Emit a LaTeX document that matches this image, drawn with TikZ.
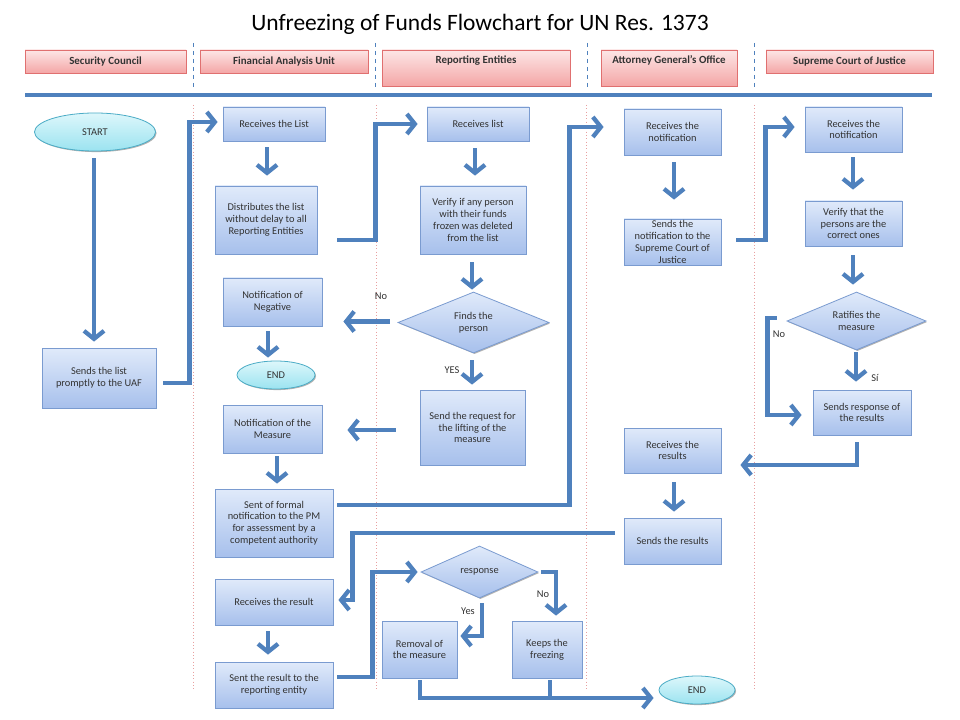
\documentclass[tikz,border=0pt]{standalone}
\usepackage{fontspec}
\setmainfont{Carlito}
\usetikzlibrary{shapes.geometric,arrows.meta,calc,shadows}
\definecolor{arrowblue}{HTML}{4F81BD}
\definecolor{boxline}{HTML}{7A9BD0}
\definecolor{boxtop}{HTML}{E0EAFA}
\definecolor{boxbot}{HTML}{A7C0EC}
\definecolor{hdrtop}{HTML}{FDE6E6}
\definecolor{hdrbot}{HTML}{F4A6A6}
\definecolor{hdrline}{HTML}{E07070}
\definecolor{elltop}{HTML}{DDF7FB}
\definecolor{ellbot}{HTML}{9BE3F0}
\definecolor{ellline}{HTML}{4BACC6}
\definecolor{lanered}{HTML}{E8A0A0}
\definecolor{txt}{HTML}{333333}
\tikzset{
  sz/.style 2 args={minimum width=#1*0.75pt, minimum height=#2*0.75pt},
  shad/.style={drop shadow={shadow xshift=0.8pt,shadow yshift=-0.8pt,opacity=0.3,fill=black}},
  box/.style={draw=boxline, line width=0.6pt, top color=boxtop, bottom color=boxbot, shad,
    align=center, font=\fontsize{7.8}{8.8}\selectfont, text=txt, inner sep=1pt},
  dia/.style={box, diamond, aspect=2.4, inner sep=0pt},
  oval/.style={draw=ellline, line width=0.6pt, top color=elltop, bottom color=ellbot, shad,
    ellipse, inner sep=0pt, font=\fontsize{7.8}{8.8}\selectfont, text=txt},
  hdr/.style={draw=hdrline, line width=0.6pt, top color=hdrtop, bottom color=hdrbot, shad,
    font=\fontsize{8.2}{9}\selectfont\bfseries, text=txt, inner sep=0pt, text height=5.5pt, text depth=1.5pt},
  hdrtall/.style={hdr, text depth=12pt},
  lbl/.style={font=\fontsize{7.8}{8.8}\selectfont, text=txt, inner sep=0pt},
  conn/.style={draw=arrowblue, line width=3.2pt},
  arr/.style={conn, -{Straight Barb[length=6pt,width=15pt]}},
  lanered/.style={draw=lanered, line width=0.5pt, dotted},
  laneblue/.style={draw=arrowblue, line width=0.5pt, dashed}
}
\begin{document}
\begin{tikzpicture}[x=0.75pt,y=-0.75pt]
\useasboundingbox[fill=white] (0,0) rectangle (960,720);
% title
\node[font=\fontsize{17.6}{20}\selectfont, text=black] (title) at (480,24) {Unfreezing of Funds Flowchart for UN Res. 1373};
% lane separators
\foreach \xx in {193,375,587,754} \draw[laneblue] (\xx,43) -- (\xx,88);
\foreach \xx in {193,376,586,754} \draw[lanered] (\xx,105) -- (\xx,690);
\draw[conn] (25,95) -- (932,95);
% headers
\node[hdr, sz={161}{23}] (hsc) at (105.5,61.5) {Security Council};
\node[hdr, sz={168}{23}] (hfau) at (284,61.5) {Financial Analysis Unit};
\node[hdrtall, sz={188}{36}] (hre) at (476,68) {Reporting Entities};
\node[hdrtall, sz={136}{36}] (hag) at (669,68) {Attorney General’s Office};
\node[hdr, sz={167}{23}] (hscj) at (849.5,61.5) {Supreme Court of Justice};
% Security Council
\node[oval, sz={121}{38}] (start) at (95,132) {START};
\node[box, sz={114}{60}] (sendlist) at (99,378) {Sends the list\\promptly to the UAF};
% FAU
\node[box, sz={102}{34}] (recvlist) at (274,124) {Receives the List};
\node[box, sz={102}{68}] (distrib) at (266,220) {Distributes the list\\without delay to all\\Reporting Entities};
\node[box, sz={99}{48}] (notifneg) at (272.5,302) {Notification of\\Negative};
\node[oval, sz={78}{28}] (end1) at (276,375) {END};
\node[box, sz={99}{48}] (notifmeas) at (272.5,429) {Notification of the\\Measure};
\node[box, sz={118}{68}] (sentformal) at (274,523) {Sent of formal\\notification to the PM\\for assessment by a\\competent authority};
\node[box, sz={118}{46}] (recvresult) at (274,602) {Receives the result};
\node[box, sz={118}{46}] (sentresult) at (274,685) {Sent the result to the\\reporting entity};
% Reporting entities
\node[box, sz={102}{34}] (recvRE) at (478,124) {Receives list};
\node[box, sz={106}{68}] (verify) at (473,220) {Verify if any person\\with their funds\\frozen was deleted\\from the list};
\node[dia, sz={151}{61}] (finds) at (473.5,322.5) {Finds the\\person};
\node[box, sz={105}{75}] (sendreq) at (472.5,427.5) {Send the request for\\the lifting of the\\measure};
\node[dia, sz={117}{52}] (response) at (479.5,572) {response};
\node[box, sz={75}{57}] (removal) at (419.5,649.5) {Removal of\\the measure};
\node[box, sz={70}{57}] (keeps) at (547,649.5) {Keeps the\\freezing};
\node[oval, sz={76}{28}] (end2) at (697,690) {END};
% Attorney General
\node[box, sz={97}{46}] (recvnotifAG) at (672.5,132) {Receives the\\notification};
\node[box, sz={97}{46}] (sendsnotif) at (672.5,242) {Sends the\\notification to the\\Supreme Court of\\Justice};
\node[box, sz={97}{45}] (recvresults) at (672.5,450.5) {Receives the\\results};
\node[box, sz={97}{46}] (sendsresults) at (672.5,541) {Sends the results};
% Supreme Court
\node[box, sz={97}{45}] (recvnotifSC) at (853.5,129.5) {Receives the\\notification};
\node[box, sz={97}{45}] (verifySC) at (853.5,223.5) {Verify that the\\persons are the\\correct ones};
\node[dia, sz={139}{58}] (ratifies) at (856.5,321) {Ratifies the\\measure};
\node[box, sz={98}{45}] (sendsresp) at (862,412.5) {Sends response of\\the results};
% labels
\node[lbl] (l1) at (381,296) {No};
\node[lbl] (l2) at (452,370) {YES};
\node[lbl] (l3) at (779,334) {No};
\node[lbl] (l4) at (875,378) {Sí};
\node[lbl] (l5) at (468,611) {Yes};
\node[lbl] (l6) at (543,594) {No};
% connectors
\draw[arr] ($(start.south)+(-1,7)$) -- ($(sendlist.north -| start.south)+(-1,-6)$);
\draw[arr] ($(sendlist.east)+(7,5)$) -| ($(recvlist.west)+(-33,-2)$) -- ($(recvlist.west)+(-5,-2)$);
\draw[arr] ($(recvlist.south -| distrib.north)+(1,6)$) -- ($(distrib.north)+(1,-10)$);
\draw[arr] ($(distrib.east)+(20,20)$) -| ($(recvRE.west)+(-51,0)$) -- ($(recvRE.west)+(-9,0)$);
\draw[arr] ($(recvRE.south)+(-3,7)$) -- ($(verify.north -| recvRE.south)+(-3,-10)$);
\draw[arr] ($(verify.south)+(-1,8)$) -- ($(finds.north)+(-1.5,-2)$);
\draw[arr] ($(finds.west)+(-8,-1)$) -- ($(notifneg.east |- finds.west)+(21,-1)$);
\draw[arr] ($(notifneg.south)+(-4.5,5)$) -- ($(end1.north -| notifneg.south)+(-4.5,-3)$);
\draw[arr] ($(finds.south)+(-1.5,7)$) -- ($(sendreq.north)+(-0.5,-5)$);
\draw[arr] ($(sendreq.west)+(-24,2.5)$) -- ($(notifmeas.east |- sendreq.west)+(25,2.5)$);
\draw[arr] ($(notifmeas.south)+(4.5,3)$) -- ($(sentformal.north -| notifmeas.south)+(4.5,-5)$);
\draw[arr] ($(sentformal.east)+(4,-18)$) -| ($(recvnotifAG.west)+(-54,-5)$) -- ($(recvnotifAG.west)+(-20,-5)$);
\draw[arr] ($(recvnotifAG.south)+(1.5,7)$) -- ($(sendsnotif.north)+(1.5,-19)$);
\draw[arr] ($(sendsnotif.east)+(15,-2)$) -| ($(recvnotifSC.west)+(-39,-2.5)$) -- ($(recvnotifSC.west)+(-10,-2.5)$);
\draw[arr] ($(recvnotifSC.south)+(-0.5,5)$) -- ($(verifySC.north)+(-0.5,-11)$);
\draw[arr] ($(verifySC.south)+(-0.5,9)$) -- ($(ratifies.north -| verifySC.south)+(-0.5,-7)$);
\draw[arr] ($(ratifies.west)+(-10,-3)$) -- ++(-9,0) |- ($(sendsresp.west)+(-11,2.5)$);
\draw[arr] ($(ratifies.south)+(-0.5,2)$) -- ($(sendsresp.north -| ratifies.south)+(-0.5,-8)$);
\draw[arr] ($(sendsresp.south)+(-5,7)$) |- ($(recvresults.east)+(19,14.5)$);
\draw[arr] ($(recvresults.south)+(1.5,9)$) -- ($(sendsresults.north)+(1.5,-6)$);
\draw[arr] ($(sendsresults.west)+(-9,-8)$) -| ($(recvresult.east)+(19,-2)$) -- ($(recvresult.east)+(5,-2)$);
\draw[arr] ($(recvresult.south)+(-6,6)$) -- ($(sentresult.north)+(-6,-7)$);
\draw[arr] ($(sentresult.east)+(4,-8)$) -| ($(response.west)+(-48,0)$) -- ($(response.west)+(-3,0)$);
\draw[arr] ($(response.south)+(2.5,5)$) |- ($(removal.east)+(3,-13.5)$);
\draw[arr] ($(response.east)+(3,0)$) -| ($(keeps.north)+(9,-5)$);
\draw[arr] ($(removal.south)+(0.5,2)$) |- ($(end2.west)+(-5,8)$);
\draw[conn] ($(keeps.south)+(3,2)$) -- ($(keeps.south)+(3,20)$);
\end{tikzpicture}
\end{document}
